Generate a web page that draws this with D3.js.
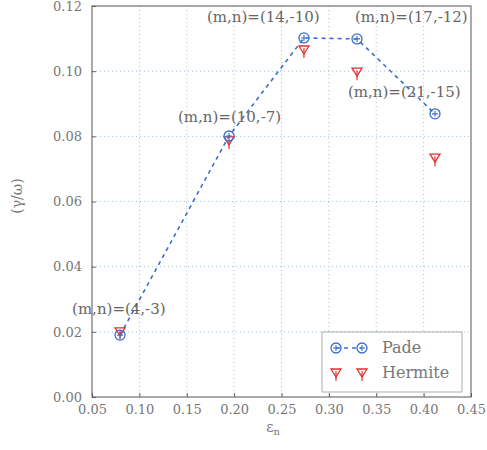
<!DOCTYPE html>
<html><head><meta charset="utf-8">
<script src="https://cdn.jsdelivr.net/npm/d3@7"></script>
<style>body{margin:0;background:#fff}</style>
</head><body>
<svg id="c" width="487" height="450"></svg>
<script>
const labels = ["(m,n)=(4,-3)","(m,n)=(10,-7)","(m,n)=(14,-10)","(m,n)=(17,-12)","(m,n)=(21,-15)"];
const xVals = [0.0796, 0.1946, 0.2737, 0.3297, 0.412];
const padeY = [0.0190, 0.0801, 0.1102, 0.1099, 0.0869];
const hermiteY = [0.0200, 0.0786, 0.1065, 0.0997, 0.0733];
const xTicks = [0.05,0.10,0.15,0.20,0.25,0.30,0.35,0.40,0.45];
const yTicks = [0.00,0.02,0.04,0.06,0.08,0.10,0.12];
const labelPos = [[-48,-21],[-51,-14],[-97,-16],[-2,-17],[-87,-17]];

const svg = d3.select("#c");
const L=92,R=471,T=6,B=397;
const x = d3.scaleLinear().domain([0.05,0.45]).range([L,R]);
const y = d3.scaleLinear().domain([0,0.12]).range([B,T]);
const font = "DejaVu Serif";
const txt = "#777";

// grid
svg.append("g").selectAll("line").data(xTicks.slice(1,-1)).join("line")
  .attr("x1",d=>x(d)).attr("x2",d=>x(d)).attr("y1",T).attr("y2",B)
  .attr("stroke","#9cc4d8").attr("stroke-width",1).attr("stroke-dasharray","1,3");
svg.append("g").selectAll("line").data(yTicks.slice(1,-1)).join("line")
  .attr("y1",d=>y(d)).attr("y2",d=>y(d)).attr("x1",L).attr("x2",R)
  .attr("stroke","#9cc4d8").attr("stroke-width",1).attr("stroke-dasharray","1,3");

// axes
const xa = svg.append("g").attr("transform",`translate(0,${B})`)
  .call(d3.axisBottom(x).tickValues(xTicks).tickFormat(d3.format(".2f")).tickSize(-4).tickPadding(8));
const ya = svg.append("g").attr("transform",`translate(${L},0)`)
  .call(d3.axisLeft(y).tickValues(yTicks).tickFormat(d3.format(".2f")).tickSize(-4).tickPadding(10));
[xa,ya].forEach(g=>{
  g.selectAll("text").attr("font-family",font).attr("font-size",13).attr("fill",txt);
  g.selectAll("line").attr("stroke","#666");
  g.select(".domain").remove();
});
svg.append("rect").attr("x",L).attr("y",T).attr("width",R-L).attr("height",B-T)
  .attr("fill","none").attr("stroke","#555").attr("stroke-width",1);

// Pade dashed line
const pts = xVals.map((v,i)=>[v,padeY[i]]);
svg.append("path").datum(pts)
  .attr("d",d3.line().x(d=>x(d[0])).y(d=>y(d[1])))
  .attr("fill","none").attr("stroke","#3a6fd0").attr("stroke-width",1.6).attr("stroke-dasharray","4,4");

function circleMark(g,cx,cy){
  g.append("circle").attr("cx",cx).attr("cy",cy).attr("r",5).attr("fill","none").attr("stroke","#3a6fd0").attr("stroke-width",1.3);
  g.append("path").attr("d",`M${cx-3},${cy}H${cx+3}M${cx},${cy-3}V${cy+3}`).attr("stroke","#3a6fd0").attr("stroke-width",1.1);
}
function triMark(g,cx,cy){
  g.append("path").attr("d",`M${cx-5},${cy-4}L${cx+5},${cy-4}L${cx},${cy+4}Z`).attr("fill","none").attr("stroke","#e03030").attr("stroke-width",1.3);
  g.append("path").attr("d",`M${cx},${cy-2}V${cy+8}`).attr("stroke","#e03030").attr("stroke-width",1.2);
}
const mg = svg.append("g");
xVals.forEach((v,i)=>triMark(mg,x(v),y(hermiteY[i])));
xVals.forEach((v,i)=>circleMark(mg,x(v),y(padeY[i])));

// annotations
svg.append("g").selectAll("text").data(labels).join("text")
  .attr("x",(d,i)=>x(xVals[i])+labelPos[i][0])
  .attr("y",(d,i)=>y(padeY[i])+labelPos[i][1])
  .attr("font-family",font).attr("font-size",15).attr("fill","#666").text(d=>d);

// legend
const lg = svg.append("g");
lg.append("rect").attr("x",322).attr("y",332).attr("width",140).attr("height",60)
  .attr("fill","#fff").attr("stroke","#999").attr("stroke-width",0.8);
lg.append("line").attr("x1",336).attr("x2",362).attr("y1",348).attr("y2",348)
  .attr("stroke","#3a6fd0").attr("stroke-width",1.6).attr("stroke-dasharray","4,4");
circleMark(lg,336,348); circleMark(lg,362,348);
triMark(lg,336,373); triMark(lg,362,373);
lg.append("text").attr("x",382).attr("y",353).attr("font-family",font).attr("font-size",16).attr("fill",txt).text("Pade");
lg.append("text").attr("x",382).attr("y",378).attr("font-family",font).attr("font-size",16).attr("fill",txt).text("Hermite");

// axis labels
svg.append("text").attr("x",273).attr("y",432).attr("text-anchor","middle")
  .attr("font-family",font).attr("font-size",14).attr("fill",txt)
  .html('ε<tspan font-size="10" dy="3">n</tspan>');
svg.append("text").attr("transform","translate(22,196) rotate(-90)").attr("text-anchor","middle")
  .attr("font-family",font).attr("font-size",14).attr("fill",txt).text("(γ/ω)");
</script>
</body></html>
